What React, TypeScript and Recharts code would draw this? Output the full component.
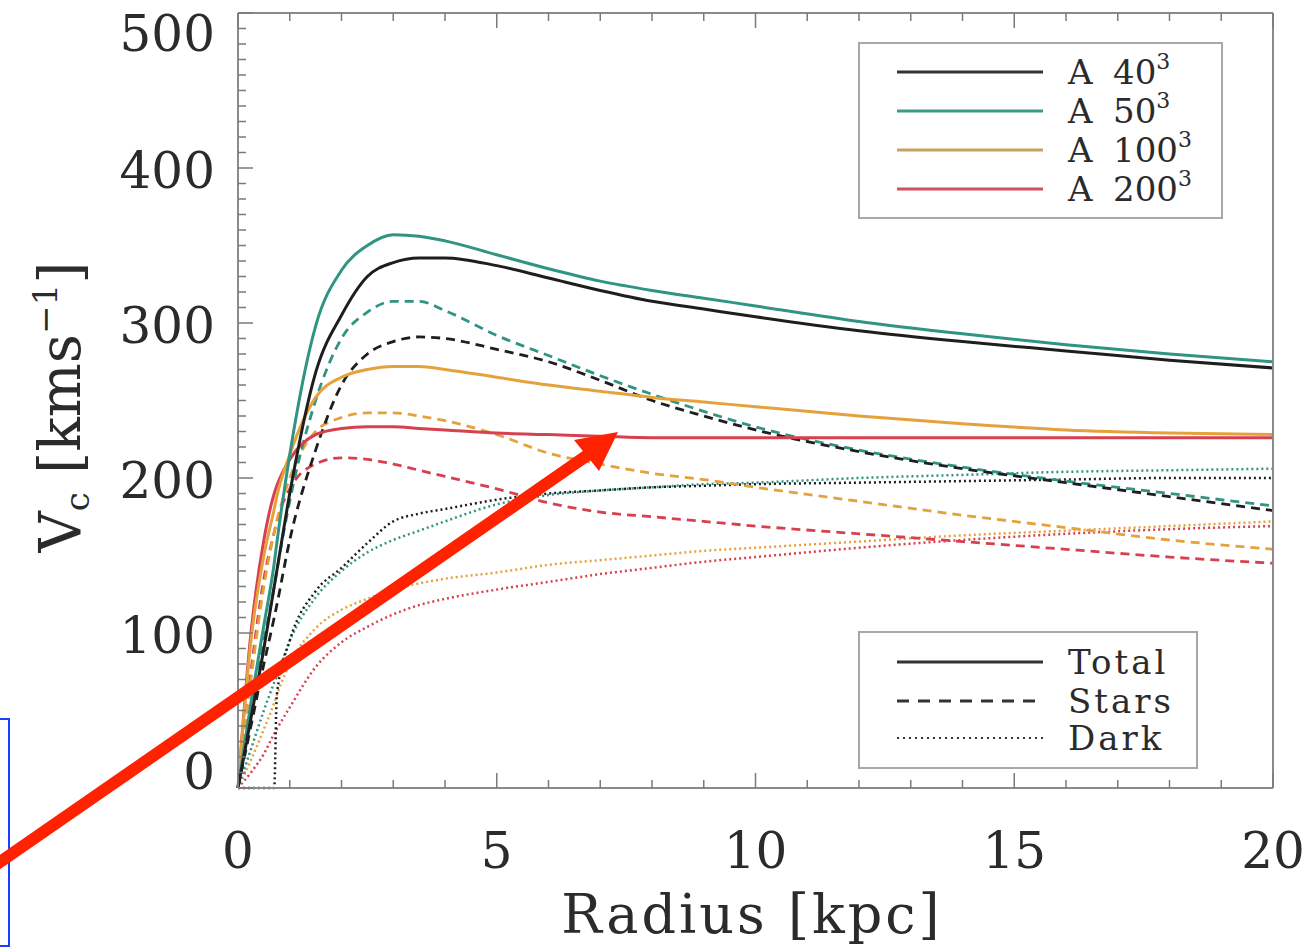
import { LineChart, Line, XAxis, YAxis } from 'recharts'

// radius grid in kpc
const RADIUS = [0, 0.25, 0.5, 0.7, 0.75, 1, 1.5, 2, 2.5, 3, 3.5, 4, 5, 6, 7, 8, 9, 10, 12, 14, 16, 18, 20]

// total circular velocity
const A40_TOTAL = [0, 45, 90, 130, 140, 190, 268, 305, 330, 339, 342, 342, 337, 329, 321, 314, 309, 304, 295, 288, 282, 276, 271]
const A50_TOTAL = [0, 55, 105, 145, 158, 215, 298, 334, 350, 357, 356, 353, 344, 335, 327, 321, 316, 311, 301, 293, 286, 280, 275]
const A100_TOTAL = [0, 95, 150, 180, 188, 215, 252, 265, 270, 272, 272, 270, 265, 260, 256, 252, 249, 246, 240, 235, 231, 229, 228]
const A200_TOTAL = [0, 100, 160, 190, 195, 212, 228, 232, 233, 233, 232, 231, 229, 228, 227, 226, 226, 226, 226, 226, 226, 226, 226]

// stellar component
const A40_STARS = [0, 40, 80, 110, 118, 160, 218, 260, 280, 288, 291, 290, 283, 275, 263, 250, 240, 231, 217, 206, 197, 188, 179]
const A50_STARS = [0, 50, 95, 130, 140, 185, 250, 290, 307, 314, 314, 308, 292, 279, 266, 254, 243, 233, 218, 207, 198, 190, 182]
const A100_STARS = [0, 70, 130, 165, 172, 200, 230, 239, 242, 242, 240, 237, 228, 216, 209, 203, 199, 194, 185, 176, 168, 160, 154]
const A200_STARS = [0, 75, 135, 165, 172, 193, 209, 213, 212, 209, 205, 201, 193, 184, 178, 175, 172, 169, 164, 159, 154, 149, 145]

// dark matter component
const A40_DARK = [0, 0, 0, 0, 60, 95, 127, 142, 158, 172, 177, 180, 186, 190, 192, 194, 195, 196, 197, 198, 199, 200, 200]
const A50_DARK = [0, 25, 50, 68, 72, 95, 123, 140, 152, 160, 166, 172, 183, 189, 192, 194, 196, 197, 200, 202, 204, 205, 206]
const A100_DARK = [0, 18, 38, 55, 60, 80, 103, 115, 122, 128, 132, 135, 139, 144, 147, 150, 153, 155, 159, 163, 166, 169, 172]
const A200_DARK = [0, 10, 22, 35, 38, 52, 78, 94, 104, 112, 118, 122, 128, 133, 138, 142, 146, 149, 155, 160, 164, 167, 169]

const RUNS = ['A 40', 'A 50', 'A 100', 'A 200']
const RUN_COLORS = ['#1e1e1e', '#2f9482', '#e5a23c', '#d8404f']
const LEGEND_COLORS = ['#333333', '#3d9a87', '#c9a060', '#d24f5e']
const COMPONENTS = ['Total', 'Stars', 'Dark']

const X_LABELS = [0, 5, 10, 15, 20]
const Y_LABELS = [0, 100, 200, 300, 400, 500]
const X_TICKS = Array.from({ length: 21 }, (_, i) => i)
const Y_TICKS = Array.from({ length: 51 }, (_, i) => i * 10)

const FONT = '"DejaVu Serif", serif'
const TICK_COLOR = '#7a7a7a'

const rows = RADIUS.map((r, i) => ({
    r,
    a40Total: A40_TOTAL[i], a50Total: A50_TOTAL[i], a100Total: A100_TOTAL[i], a200Total: A200_TOTAL[i],
    a40Stars: A40_STARS[i], a50Stars: A50_STARS[i], a100Stars: A100_STARS[i], a200Stars: A200_STARS[i],
    a40Dark: A40_DARK[i], a50Dark: A50_DARK[i], a100Dark: A100_DARK[i], a200Dark: A200_DARK[i],
}))

const runKeys = ['a40', 'a50', 'a100', 'a200']

// draw order: dark, then stars, then totals (finest resolution first)
const lineDefs = [
    ...[3, 2, 1, 0].map((i) => ({ key: runKeys[i] + 'Dark', color: RUN_COLORS[i], dash: '2 3', width: 2.5 })),
    ...[3, 2, 1, 0].map((i) => ({ key: runKeys[i] + 'Stars', color: RUN_COLORS[i], dash: '9 6', width: 2.8 })),
    ...[3, 2, 1, 0].map((i) => ({ key: runKeys[i] + 'Total', color: RUN_COLORS[i], dash: undefined, width: 3 })),
]

// plot box in page pixels
const PLOT = { left: 238, top: 13, right: 1273, bottom: 788 }

const BottomTick = (props: any) => {
    const { x, payload } = props
    const y = PLOT.bottom
    const major = X_LABELS.includes(payload.value)
    return (
        <g>
            <line x1={x} x2={x} y1={y} y2={y - (major ? 15 : 8)} stroke={TICK_COLOR} strokeWidth={1.5} />
            {major && (
                <text x={x} y={y + 80} textAnchor="middle" fontFamily={FONT} fontSize={50} fill="#2b2b2b">
                    {payload.value}
                </text>
            )}
        </g>
    )
}

const TopTick = (props: any) => {
    const { x, payload } = props
    const y = PLOT.top
    const major = X_LABELS.includes(payload.value)
    return <line x1={x} x2={x} y1={y} y2={y + (major ? 15 : 8)} stroke={TICK_COLOR} strokeWidth={1.5} />
}

const LeftTick = (props: any) => {
    const { y, payload } = props
    const x = PLOT.left
    const major = Y_LABELS.includes(payload.value)
    // end labels are pulled inward, like the original plot
    let shift = 2
    if (payload.value === 500) shift = 20
    if (payload.value === 0) shift = -17
    return (
        <g>
            <line x1={x} x2={x + (major ? 15 : 8)} y1={y} y2={y} stroke={TICK_COLOR} strokeWidth={1.5} />
            {major && (
                <text x={x - 23} y={y + shift + 18} textAnchor="end" fontFamily={FONT} fontSize={50} fill="#2b2b2b">
                    {payload.value}
                </text>
            )}
        </g>
    )
}

const RightTick = (props: any) => {
    const { y, payload } = props
    const x = PLOT.right
    const major = Y_LABELS.includes(payload.value)
    return <line x1={x} x2={x - (major ? 15 : 8)} y1={y} y2={y} stroke={TICK_COLOR} strokeWidth={1.5} />
}

const axisLine = { stroke: '#8a8a8a', strokeWidth: 2 }

function Overlay() {
    const legendRows = [72, 111, 150, 189]
    const styleRows = [662, 701, 738]
    const styleDash = [undefined, '12 9', '2 4']
    return (
        <svg
            width={1313}
            height={951}
            style={{ position: 'absolute', left: 0, top: 0, pointerEvents: 'none' }}
        >
            {/* resolution legend */}
            <rect x={859} y={43} width={363} height={175} fill="#fff" stroke="#a8a8a8" strokeWidth={2} />
            {RUNS.map((name, i) => {
                const [a, n] = name.split(' ')
                return (
                    <g key={name}>
                        <line x1={897} x2={1043} y1={legendRows[i]} y2={legendRows[i]} stroke={LEGEND_COLORS[i]} strokeWidth={3} />
                        <text y={legendRows[i] + 12} fontFamily={FONT} fontSize={34} fill="#2b2b2b">
                            <tspan x={1068}>{a}</tspan>
                            <tspan x={1113}>{n}</tspan>
                            <tspan dy={-15} fontSize={22}>3</tspan>
                        </text>
                    </g>
                )
            })}

            {/* component legend */}
            <rect x={859} y={632} width={338} height={136} fill="#fff" stroke="#a8a8a8" strokeWidth={2} />
            {COMPONENTS.map((name, i) => (
                <g key={name}>
                    <line
                        x1={897}
                        x2={1043}
                        y1={styleRows[i]}
                        y2={styleRows[i]}
                        stroke="#333"
                        strokeWidth={i === 2 ? 2 : 3}
                        strokeDasharray={styleDash[i]}
                    />
                    <text x={1068} y={styleRows[i] + 12} fontFamily={FONT} fontSize={34} letterSpacing={3} fill="#2b2b2b">
                        {name}
                    </text>
                </g>
            ))}

            {/* axis titles */}
            <text x={752} y={933} textAnchor="middle" fontFamily={FONT} fontSize={54} letterSpacing={3} fill="#2b2b2b">
                Radius [kpc]
            </text>
            <text
                transform="translate(80, 407) rotate(-90)"
                textAnchor="middle"
                fontFamily={FONT}
                fontSize={57}
                fill="#2b2b2b"
            >
                V<tspan dy={9} fontSize={34}>c</tspan>
                <tspan dy={-9}> [kms</tspan>
                <tspan dy={-23} fontSize={34}>−1</tspan>
                <tspan dy={23}>]</tspan>
            </text>

            {/* annotations on the figure */}
            <rect x={-5} y={719} width={14} height={227} fill="none" stroke="#1c3fff" strokeWidth={2} />
            <line x1={-10} y1={869} x2={592} y2={452} stroke="#ff2200" strokeWidth={12} />
            <polygon points="618,432 574,440 599,471" fill="#ff2200" />
        </svg>
    )
}

export default function App() {
    return (
        <div style={{ position: 'absolute', left: 0, top: 0, width: 1313, height: 951, background: '#fff' }}>
            <LineChart width={1313} height={951} data={rows} margin={{ top: 3, right: 30, bottom: 153, left: 228 }}>
                <XAxis
                    dataKey="r"
                    type="number"
                    domain={[0, 20]}
                    ticks={X_TICKS}
                    interval={0}
                    height={10}
                    tickLine={false}
                    axisLine={axisLine}
                    tick={BottomTick}
                />
                <XAxis
                    xAxisId="top"
                    orientation="top"
                    dataKey="r"
                    type="number"
                    domain={[0, 20]}
                    ticks={X_TICKS}
                    interval={0}
                    height={10}
                    tickLine={false}
                    axisLine={axisLine}
                    tick={TopTick}
                />
                <YAxis
                    type="number"
                    domain={[0, 500]}
                    ticks={Y_TICKS}
                    interval={0}
                    width={10}
                    tickLine={false}
                    axisLine={axisLine}
                    tick={LeftTick}
                />
                <YAxis
                    yAxisId="right"
                    orientation="right"
                    type="number"
                    domain={[0, 500]}
                    ticks={Y_TICKS}
                    interval={0}
                    width={10}
                    tickLine={false}
                    axisLine={axisLine}
                    tick={RightTick}
                />
                {lineDefs.map((d) => (
                    <Line
                        key={d.key}
                        dataKey={d.key}
                        type="monotone"
                        stroke={d.color}
                        strokeWidth={d.width}
                        strokeDasharray={d.dash}
                        dot={false}
                        activeDot={false}
                        isAnimationActive={false}
                    />
                ))}
            </LineChart>
            <Overlay />
        </div>
    )
}
